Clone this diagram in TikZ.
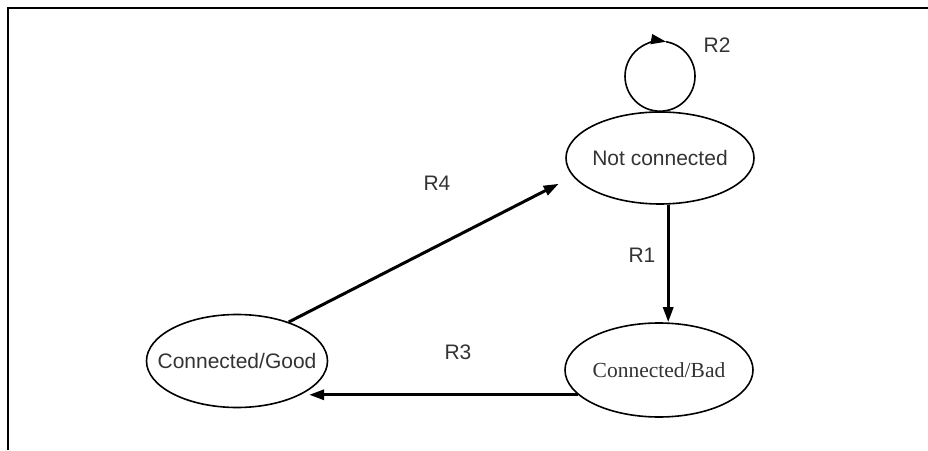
\documentclass[tikz,border=0pt]{standalone}
\usepackage{fontspec}
\setmainfont{Liberation Sans}
\newfontfamily\timesfont{Liberation Serif}
\usetikzlibrary{shapes.geometric,arrows.meta}
\definecolor{txt}{HTML}{333333}
\tikzset{
  state/.style={ellipse, draw, line width=1.6pt, inner sep=0pt, text=txt, font=\fontsize{21}{24}\selectfont},
  arr/.style={line width=3pt, -{Triangle[length=15pt,width=10pt]}},
  lbl/.style={text=txt, font=\fontsize{21}{24}\selectfont, inner sep=0pt},
  loopline/.style={line width=1.6pt},
  frame/.style={line width=1.8pt}
}
\begin{document}
\begin{tikzpicture}[x=1pt,y=1pt]
\useasboundingbox (0,0) rectangle (928,450);
% frame
\coordinate (ftl) at (8,442);
\coordinate (ftr) at (928,442);
\coordinate (fbl) at (8,0);
\draw[frame] (fbl) -- (ftl) -- (ftr);
% states
\node[state, minimum width=188, minimum height=92] (nc) at (660,292) {\makebox[0pt]{Not connected}};
\node[state, minimum width=188, minimum height=94, font=\timesfont\fontsize{21.5}{24}\selectfont] (cb) at (659,80) {\makebox[0pt]{Connected/Bad}};
\node[state, minimum width=181, minimum height=93] (cg) at (237,89) {\makebox[0pt]{\raisebox{-2pt}{Connected/Good}}};
% self loop R2
\draw[loopline] (nc.north) arc[start angle=-90, end angle=80, radius=35];
\draw[loopline, -{Triangle[length=15pt,width=10pt]}] (nc.north) arc[start angle=270, end angle=80, radius=35];
\node[lbl] (r2) at (717,405) {R2};
% R1
\draw[arr] (nc.-80) -- (nc.-80 |- cb.north);
\node[lbl] (r1) at (642,195) {R1};
% R3
\draw[arr, shorten >=7pt] (cb.197) -- (cg.-27 |- cb.197);
\node[lbl] (r3) at (458,98) {R3};
% R4
\draw[arr, shorten >=16pt] (cg.37) -- (nc.192);
\node[lbl] (r4) at (437,267) {R4};
\end{tikzpicture}
\end{document}
